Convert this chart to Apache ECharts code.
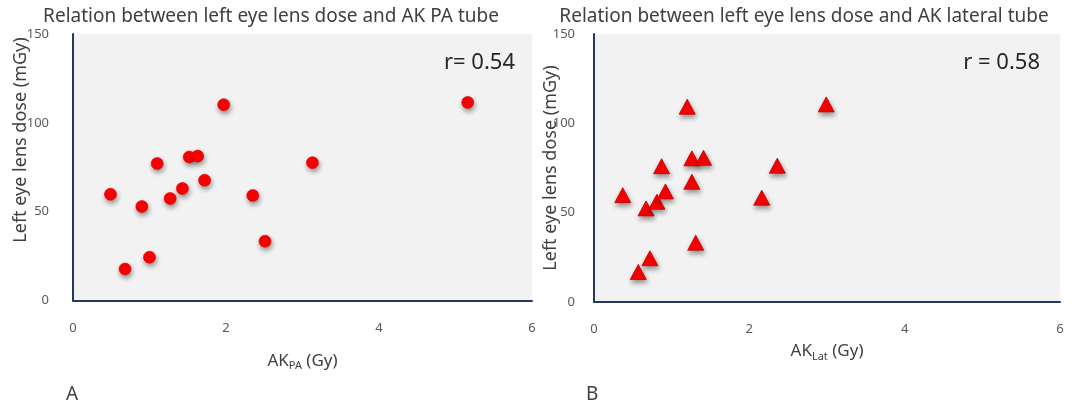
<!DOCTYPE html>
<html><head><meta charset="utf-8">
<script src="https://cdn.jsdelivr.net/npm/echarts@6/dist/echarts.min.js"></script>
<style>html,body{margin:0;padding:0;background:#fff}#c{width:1072px;height:408px}</style>
</head><body><div id="c"></div>
<script>
const titleA = 'Relation between left eye lens dose and AK PA tube';
const titleB = 'Relation between left eye lens dose and AK lateral tube';
const yTitle = 'Left eye lens dose (mGy)';
const rA = 'r= 0.54';
const rB = 'r = 0.58';
const xTicks = [0, 2, 4, 6];
const yTicks = [0, 50, 100, 150];
const akPA  = [0.49,0.68,0.90,1.00,1.10,1.27,1.43,1.52,1.63,1.72,1.97,2.35,2.51,3.13,5.16];
const doseA = [59.8,17.7,52.9,24.4,77.1,57.4,63.0,80.8,81.3,67.7,110.2,59.1,33.4,77.6,111.5];
const akLat = [0.37,0.57,0.67,0.72,0.81,0.87,0.92,1.20,1.26,1.26,1.31,1.41,2.16,2.36,2.99];
const doseB = [59.8,16.8,52.4,24.5,56.1,76.0,61.9,109.3,80.4,67.3,33.2,80.7,58.4,76.3,110.6];

const F = '"Noto Sans", "DejaVu Sans", sans-serif';
const axisCol = '#1F3864';
const lblCol = '#595959';

function xAx(idx, sub, gap, margin) {
  return {
    type: 'value', gridIndex: idx, min: xTicks[0], max: xTicks[xTicks.length-1], interval: xTicks[1]-xTicks[0],
    axisLine: {show: true, onZero: false, lineStyle: {color: axisCol, width: 2}},
    axisTick: {show: false}, splitLine: {show: false},
    axisLabel: {color: lblCol, fontFamily: F, fontSize: 13, margin: margin},
    name: '{n|AK}{s|' + sub + '}{n| (Gy)}', nameLocation: 'middle', nameGap: gap,
    nameTextStyle: {rich: {
      n: {fontFamily: F, fontSize: 17, color: '#404040'},
      s: {fontFamily: F, fontSize: 11, color: '#404040', padding: [10, 0, 0, 0]}
    }}
  };
}
function yAx(idx, margin) {
  return {
    type: 'value', gridIndex: idx, min: yTicks[0], max: yTicks[yTicks.length-1], interval: yTicks[1]-yTicks[0],
    axisLine: {show: true, onZero: false, lineStyle: {color: axisCol, width: 2}},
    axisTick: {show: false}, splitLine: {show: false},
    axisLabel: {color: lblCol, fontFamily: F, fontSize: 13, margin: margin}
  };
}
const shadow = {shadowBlur: 5, shadowOffsetY: 3, shadowOffsetX: 1, shadowColor: 'rgba(0,0,0,0.4)'};

const chart = echarts.init(document.getElementById('c'), null, {renderer: 'canvas'});
chart.setOption({
  animation: false,
  title: [
    {text: titleA, left: 266, top: 2, textAlign: 'center', textStyle: {fontFamily: F, fontSize: 19, fontWeight: 'normal', color: '#3F3F3F'}},
    {text: titleB, left: 799, top: 2, textAlign: 'center', textStyle: {fontFamily: F, fontSize: 19, fontWeight: 'normal', color: '#3F3F3F'}}
  ],
  grid: [
    {left: 73, right: 540, top: 34, bottom: 107.5, show: true, backgroundColor: '#F2F2F2', borderWidth: 0},
    {left: 594, right: 12, top: 34, bottom: 106, show: true, backgroundColor: '#F2F2F2', borderWidth: 0}
  ],
  xAxis: [xAx(0, 'PA', 50, 21), xAx(1, 'Lat', 39, 21)],
  yAxis: [yAx(0, 24), yAx(1, 19)],
  series: [
    {type: 'scatter', xAxisIndex: 0, yAxisIndex: 0, symbol: 'circle', symbolSize: 12,
     data: akPA.map((x, i) => [x, doseA[i]]),
     itemStyle: Object.assign({color: '#FF0000', borderColor: '#D80000', borderWidth: 0.6, opacity: 1}, shadow)},
    {type: 'scatter', xAxisIndex: 1, yAxisIndex: 1, symbol: 'triangle', symbolSize: [16, 15],
     data: akLat.map((x, i) => [x, doseB[i]]),
     itemStyle: Object.assign({color: '#FF0000', borderColor: '#C00000', borderWidth: 0.8, opacity: 1}, shadow)}
  ],
  graphic: [
    {type: 'text', x: 21, y: 140, rotation: Math.PI/2, style: {text: yTitle, font: '18px ' + F, fill: '#404040', textAlign: 'center', textVerticalAlign: 'middle'}},
    {type: 'text', x: 551, y: 168, rotation: Math.PI/2, style: {text: yTitle, font: '18px ' + F, fill: '#404040', textAlign: 'center', textVerticalAlign: 'middle'}},
    {type: 'text', x: 515, y: 63, style: {text: rA, font: '22px ' + F, fill: '#262626', textAlign: 'right', textVerticalAlign: 'middle'}},
    {type: 'text', x: 1040, y: 63, style: {text: rB, font: '22px ' + F, fill: '#262626', textAlign: 'right', textVerticalAlign: 'middle'}},
    {type: 'text', x: 66, y: 395, style: {text: 'A', font: '19px ' + F, fill: '#404040', textAlign: 'left', textVerticalAlign: 'middle'}},
    {type: 'text', x: 586, y: 395, style: {text: 'B', font: '19px ' + F, fill: '#404040', textAlign: 'left', textVerticalAlign: 'middle'}}
  ]
});
</script></body></html>
